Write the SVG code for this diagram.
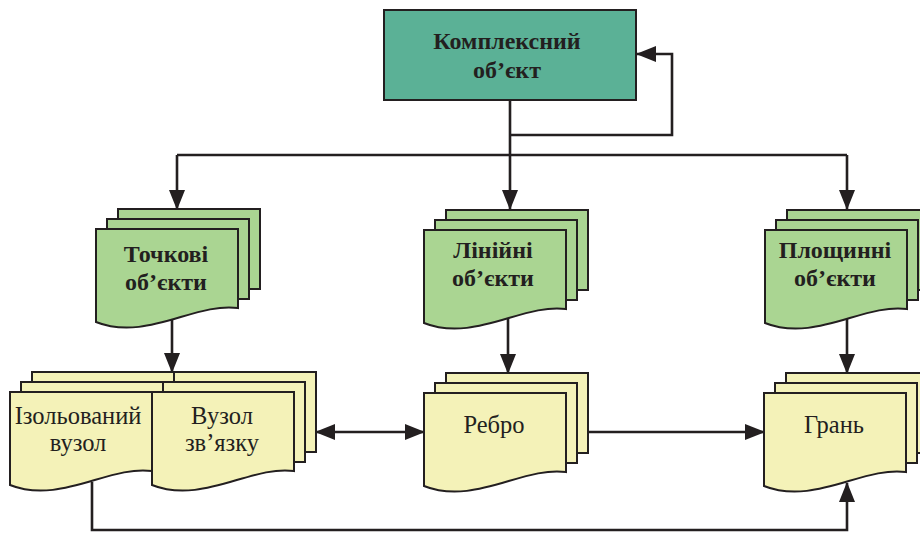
<svg xmlns="http://www.w3.org/2000/svg" xmlns:xlink="http://www.w3.org/1999/xlink" width="920" height="534" viewBox="0 0 920 534">
<style>
.box{fill:#5BB196;stroke:#231F20;stroke-width:2}
.green{fill:#AAD592;stroke:#231F20;stroke-width:2}
.yellow{fill:#F4F2B8;stroke:#231F20;stroke-width:2}
.conn{fill:none;stroke:#231F20;stroke-width:2.6}
.tb{font-family:"Liberation Serif","Times New Roman",serif;font-weight:bold;font-size:24px;fill:#231F20;text-anchor:middle}
.tr{font-family:"Liberation Serif","Times New Roman",serif;font-size:24.5px;fill:#231F20;text-anchor:middle}
</style>
<defs>
<marker id="arr" viewBox="0 0 20 16" refX="19" refY="8" markerWidth="20" markerHeight="16" markerUnits="userSpaceOnUse" orient="auto-start-reverse">
<path d="M0,0 L20,8 L0,16 Z" fill="#231F20"/>
</marker>
<g id="stk">
<rect x="22" y="-20" width="142" height="80"/>
<rect x="11" y="-10" width="142" height="80"/>
<path d="M0,0 H142 V79 C99.4,73 49.7,113 0,93 Z"/>
</g>
</defs>
<rect width="920" height="534" fill="#FFFFFF"/>
<g id="connectors">
<path class="conn" d="M510,100 V155"/>
<path class="conn" d="M177,155 H847"/>
<path class="conn" d="M177,155 V209" marker-end="url(#arr)"/>
<path class="conn" d="M510,155 V209" marker-end="url(#arr)"/>
<path class="conn" d="M847,155 V209" marker-end="url(#arr)"/>
<path class="conn" d="M510,135 H672 V54 H637" marker-end="url(#arr)"/>
<path class="conn" d="M172,315 V372" marker-end="url(#arr)"/>
<path class="conn" d="M508,315 V373" marker-end="url(#arr)"/>
<path class="conn" d="M847,315 V373" marker-end="url(#arr)"/>
<path class="conn" d="M316,432 H424" marker-start="url(#arr)" marker-end="url(#arr)"/>
<path class="conn" d="M588,432 H764" marker-end="url(#arr)"/>
<path class="conn" d="M92,482 V530 H847 V483" marker-end="url(#arr)"/>
</g>
<g id="complex-object">
<rect class="box" x="384" y="10" width="252" height="90"/>
<text class="tb" x="507" y="49" font-size="25">Комплексний</text>
<text class="tb" x="507" y="78" font-size="25">об’єкт</text>
</g>
<g id="point-objects">
<use xlink:href="#stk" class="green" x="96" y="229"/>
<text class="tb" x="166" y="262">Точкові</text>
<text class="tb" x="166" y="290">об’єкти</text>
</g>
<g id="line-objects">
<use xlink:href="#stk" class="green" x="424" y="230"/>
<text class="tb" x="493" y="258">Лінійні</text>
<text class="tb" x="493" y="286">об’єкти</text>
</g>
<g id="area-objects">
<use xlink:href="#stk" class="green" x="765" y="230"/>
<text class="tb" x="835" y="258">Площинні</text>
<text class="tb" x="835" y="286">об’єкти</text>
</g>
<g id="isolated-node">
<use xlink:href="#stk" class="yellow" x="10" y="392"/>
<text class="tr" x="78" y="424">Ізольований</text>
<text class="tr" x="78" y="451">вузол</text>
</g>
<g id="link-node">
<use xlink:href="#stk" class="yellow" x="152" y="392"/>
<text class="tr" x="222" y="424">Вузол</text>
<text class="tr" x="222" y="451">зв’язку</text>
</g>
<g id="edge">
<use xlink:href="#stk" class="yellow" x="424" y="393"/>
<text class="tr" x="494" y="433">Ребро</text>
</g>
<g id="face">
<use xlink:href="#stk" class="yellow" x="764" y="393"/>
<text class="tr" x="834" y="433">Грань</text>
</g>
</svg>
